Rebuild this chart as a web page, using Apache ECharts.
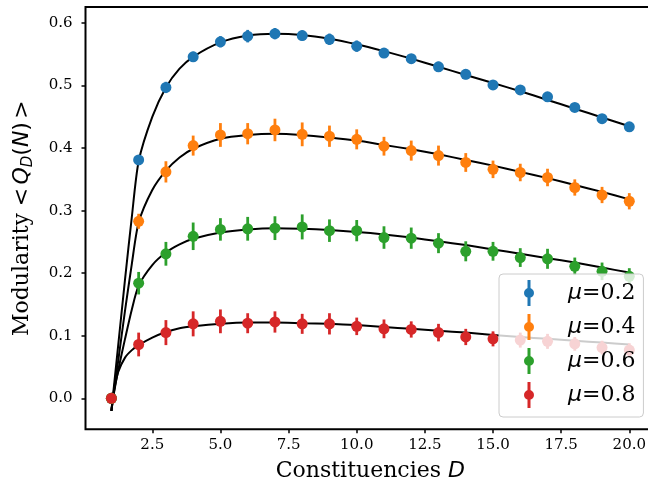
<!DOCTYPE html>
<html>
<head>
<meta charset="utf-8">
<script src="https://cdn.jsdelivr.net/npm/echarts@6/dist/echarts.min.js"></script>
<style>
  html, body { margin: 0; padding: 0; background: #fff; }
  #chart { width: 648px; height: 487px; }
</style>
</head>
<body>
<div id="chart"></div>
<script>
// measured points (mean modularity vs number of constituencies)
var constituencies = [1, 2, 3, 4, 5, 6, 7, 8, 9, 10, 11, 12, 13, 14, 15, 16, 17, 18, 19, 20];

var mu02 = [0, 0.381, 0.497, 0.546, 0.570, 0.579, 0.583, 0.580, 0.574, 0.563, 0.552, 0.543, 0.530, 0.518, 0.501, 0.493, 0.482, 0.465, 0.447, 0.434];
var mu02Err = [0, 0.005, 0.009, 0.008, 0.009, 0.010, 0.009, 0.008, 0.009, 0.009, 0.008, 0.007, 0.008, 0.008, 0.007, 0.006, 0.006, 0.005, 0.005, 0.004];

var mu04 = [0, 0.283, 0.362, 0.404, 0.421, 0.423, 0.429, 0.422, 0.419, 0.414, 0.403, 0.396, 0.388, 0.377, 0.366, 0.361, 0.353, 0.337, 0.325, 0.315];
var mu04Err = [0, 0.012, 0.017, 0.016, 0.019, 0.017, 0.018, 0.019, 0.017, 0.016, 0.015, 0.016, 0.016, 0.015, 0.014, 0.014, 0.014, 0.013, 0.013, 0.013];

var mu06 = [0, 0.184, 0.231, 0.259, 0.270, 0.271, 0.272, 0.274, 0.268, 0.268, 0.257, 0.256, 0.248, 0.235, 0.235, 0.225, 0.223, 0.211, 0.203, 0.195];
var mu06Err = [0, 0.018, 0.019, 0.022, 0.018, 0.019, 0.019, 0.020, 0.018, 0.017, 0.018, 0.017, 0.016, 0.016, 0.015, 0.015, 0.016, 0.014, 0.014, 0.013];

var mu08 = [0, 0.086, 0.105, 0.119, 0.123, 0.120, 0.122, 0.119, 0.119, 0.115, 0.111, 0.110, 0.105, 0.098, 0.095, 0.093, 0.091, 0.087, 0.081, 0.077];
var mu08Err = [0, 0.019, 0.020, 0.020, 0.019, 0.016, 0.017, 0.016, 0.017, 0.014, 0.015, 0.013, 0.014, 0.013, 0.012, 0.012, 0.012, 0.011, 0.011, 0.011];

// fitted curves (black lines)
var fitD = [1, 1.1, 1.25, 1.5, 1.75, 2, 2.5, 3, 3.5, 4, 5, 6, 7, 8, 9, 10, 11, 12, 13, 14, 15, 16, 17, 18, 19, 20];
var fit02 = [-0.02, 0.022, 0.085, 0.19, 0.29, 0.379, 0.45, 0.497, 0.527, 0.546, 0.569, 0.580, 0.583, 0.581, 0.575, 0.566, 0.555, 0.543, 0.530, 0.517, 0.504, 0.491, 0.477, 0.463, 0.449, 0.435];
var fit04 = [-0.02, 0.015, 0.06, 0.14, 0.215, 0.281, 0.333, 0.364, 0.385, 0.399, 0.415, 0.421, 0.423, 0.421, 0.417, 0.412, 0.405, 0.398, 0.390, 0.381, 0.372, 0.362, 0.352, 0.341, 0.330, 0.318];
var fit06 = [-0.02, 0.01, 0.045, 0.095, 0.142, 0.18, 0.213, 0.233, 0.246, 0.255, 0.265, 0.270, 0.272, 0.271, 0.269, 0.266, 0.262, 0.257, 0.251, 0.245, 0.238, 0.231, 0.224, 0.217, 0.209, 0.201];
var fit08 = [-0.02, 0.012, 0.042, 0.065, 0.077, 0.085, 0.097, 0.106, 0.112, 0.115, 0.119, 0.121, 0.121, 0.120, 0.119, 0.117, 0.114, 0.111, 0.108, 0.105, 0.101, 0.098, 0.095, 0.092, 0.089, 0.086];

var seriesNames = ['μ=0.2', 'μ=0.4', 'μ=0.6', 'μ=0.8'];
var xTicks = [2.5, 5, 7.5, 10, 12.5, 15, 17.5, 20];
var yTicks = [0, 0.1, 0.2, 0.3, 0.4, 0.5, 0.6];

var colors = ['#1f77b4', '#ff7f0e', '#2ca02c', '#d62728'];
var means = [mu02, mu04, mu06, mu08];
var errs = [mu02Err, mu04Err, mu06Err, mu08Err];
var fits = [fit02, fit04, fit06, fit08];

var serif = 'DejaVu Serif';
var sans = 'DejaVu Sans';

// errorbar-like legend icon: dot with vertical bar
var errIcon = 'path://M3.5,0 L6.5,0 L6.5,26 L3.5,26 Z M0,13 A5,5 0 1,1 10,13 A5,5 0 1,1 0,13 Z';

var chart = echarts.init(document.getElementById('chart'));

var series = [];

fits.forEach(function (f) {
  series.push({
    type: 'line',
    xAxisIndex: 0,
    yAxisIndex: 0,
    data: fitD.map(function (d, i) { return [d, f[i]]; }),
    showSymbol: false,
    smooth: 0.25,
    lineStyle: { color: '#000', width: 2 },
    silent: true,
    z: 1
  });
});

means.forEach(function (m, k) {
  series.push({
    type: 'custom',
    xAxisIndex: 0,
    yAxisIndex: 0,
    data: constituencies.map(function (d, i) { return [d, m[i] - errs[k][i], m[i] + errs[k][i]]; }),
    encode: { x: 0, y: [1, 2] },
    renderItem: function (params, api) {
      var p1 = api.coord([api.value(0), api.value(1)]);
      var p2 = api.coord([api.value(0), api.value(2)]);
      return {
        type: 'line',
        shape: { x1: p1[0], y1: p1[1], x2: p2[0], y2: p2[1] },
        style: { stroke: colors[k], lineWidth: 2.8 }
      };
    },
    silent: true,
    z: 2
  });
  series.push({
    name: seriesNames[k],
    type: 'scatter',
    xAxisIndex: 0,
    yAxisIndex: 0,
    data: constituencies.map(function (d, i) { return [d, m[i]]; }),
    symbol: 'circle',
    symbolSize: 11,
    itemStyle: { color: colors[k], opacity: 1 },
    silent: true,
    z: 2
  });
});

var tickStyle = { length: 4, lineStyle: { color: '#000', width: 1.5 } };
var hidden = { show: false };

var option = {
  animation: false,
  backgroundColor: '#fff',
  grid: [
    // main plot area; its right edge falls just outside the canvas
    { left: 85.5, width: 569.7, top: 7, bottom: 57.7, outerBoundsMode: 'none', show: true, borderColor: '#000', borderWidth: 2, backgroundColor: 'transparent' },
    // x ticks: same scale as the main grid, spanning 2.5 .. 20
    { left: 152.3, width: 477, top: 7, bottom: 57.7, outerBoundsMode: 'none' },
    // y ticks: same scale as the main grid, spanning 0 .. 0.6
    { left: 85.5, width: 569.7, top: 23.0, bottom: 88.7, outerBoundsMode: 'none' }
  ],
  xAxis: [
    {
      type: 'value', gridIndex: 0, min: 0.05, max: 20.95,
      axisLine: hidden, axisTick: hidden, axisLabel: hidden, splitLine: hidden,
      name: '{a|Constituencies }{b|D}',
      nameLocation: 'middle',
      nameGap: 31,
      nameTextStyle: {
        rich: {
          a: { fontFamily: serif, fontSize: 22, color: '#000' },
          b: { fontFamily: sans, fontStyle: 'italic', fontSize: 22, color: '#000' }
        }
      }
    },
    {
      type: 'value', gridIndex: 1, min: xTicks[0], max: xTicks[xTicks.length - 1], interval: 2.5,
      axisLine: hidden,
      axisTick: tickStyle,
      axisLabel: { formatter: function (v) { return v.toFixed(1); }, fontFamily: serif, fontSize: 15, color: '#000', margin: 8 },
      splitLine: hidden
    },
    { type: 'value', gridIndex: 2, show: false, min: 0, max: 1 }
  ],
  yAxis: [
    {
      type: 'value', gridIndex: 0, min: -0.0496, max: 0.6256,
      axisLine: hidden, axisTick: hidden, axisLabel: hidden, splitLine: hidden,
      name: '{a|Modularity}  {s|<} {i|Q}{sub|D}{s|(}{i|N}{s|)} {s|>}',
      nameLocation: 'middle',
      nameRotate: 90,
      nameGap: 50,
      nameTextStyle: {
        rich: {
          a: { fontFamily: serif, fontSize: 22, color: '#000', lineHeight: 26 },
          s: { fontFamily: sans, fontSize: 22, color: '#000', lineHeight: 26 },
          i: { fontFamily: sans, fontStyle: 'italic', fontSize: 22, color: '#000', lineHeight: 26 },
          sub: { fontFamily: sans, fontStyle: 'italic', fontSize: 15, color: '#000', lineHeight: 15, verticalAlign: 'bottom' }
        }
      }
    },
    { type: 'value', gridIndex: 1, show: false, min: 0, max: 1 },
    {
      type: 'value', gridIndex: 2, min: yTicks[0], max: yTicks[yTicks.length - 1], interval: 0.1,
      axisLine: hidden,
      axisTick: tickStyle,
      axisLabel: { formatter: function (v) { return v.toFixed(1); }, fontFamily: serif, fontSize: 15, color: '#000', margin: 13 },
      splitLine: hidden
    }
  ],
  legend: {
    left: 499,
    top: 274,
    orient: 'vertical',
    selectedMode: false,
    backgroundColor: 'rgba(255,255,255,0.8)',
    borderColor: '#cccccc',
    borderWidth: 1,
    borderRadius: 4,
    padding: [6, 8, 9, 25],
    itemWidth: 10,
    itemHeight: 26,
    itemGap: 8,
    data: seriesNames.map(function (n) { return { name: n, icon: errIcon }; }),
    formatter: function (name) {
      return '{p|}{m|μ}{t|' + name.split('μ')[1] + '}';
    },
    textStyle: {
      lineHeight: 26,
      rich: {
        p: { width: 29 },
        m: { fontFamily: sans, fontStyle: 'italic', fontSize: 22, color: '#000' },
        t: { fontFamily: serif, fontSize: 22, color: '#000' }
      }
    }
  },
  series: series
};

chart.setOption(option);
</script>
</body>
</html>
